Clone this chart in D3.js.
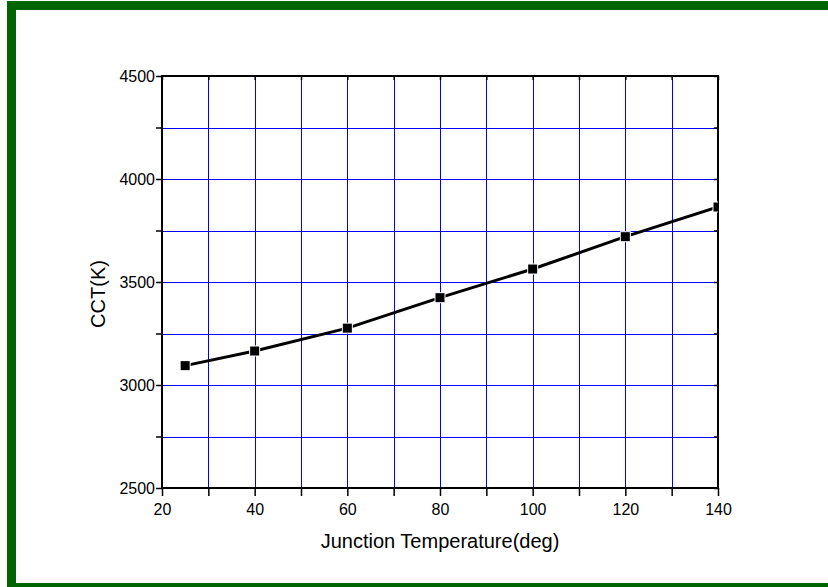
<!DOCTYPE html>
<html>
<head>
<meta charset="utf-8">
<script src="https://cdn.jsdelivr.net/npm/d3@7"></script>
<style>
  html, body { margin: 0; padding: 0; background: #fff; overflow: hidden; }
  svg { display: block; font-family: "Liberation Sans", Arial, sans-serif; }
</style>
</head>
<body>
<svg id="chart" width="828" height="587"></svg>
<script>
// junction temperature (deg) vs CCT (K)
var temps = [25, 40, 60, 80, 100, 120, 140];
var cct = [3094, 3165, 3276, 3424, 3563, 3720, 3864];

var xTickLabels = [20, 40, 60, 80, 100, 120, 140];
var yTickLabels = [2500, 3000, 3500, 4000, 4500];

var svg = d3.select("#chart"),
    width = +svg.attr("width"),
    height = +svg.attr("height");

var pLeft = 162, pRight = 718, pTop = 76, pBottom = 488;

var x = d3.scaleLinear().domain([20, 140]).range([pLeft, pRight]);
var y = d3.scaleLinear().domain([2500, 4500]).range([pBottom, pTop]);

// green outer frame: left, top and bottom only (right side is off the picture)
var frame = svg.append("g").attr("stroke", "#006400").attr("fill", "none");
frame.append("line").attr("x1", 11.5).attr("x2", 11.5).attr("y1", 1).attr("y2", height)
    .attr("stroke-width", 9);
frame.append("line").attr("x1", 7).attr("x2", width).attr("y1", 5.5).attr("y2", 5.5)
    .attr("stroke-width", 9);
frame.append("line").attr("x1", 7).attr("x2", width).attr("y1", 585.5).attr("y2", 585.5)
    .attr("stroke-width", 5);

svg.append("clipPath").attr("id", "plotclip")
    .append("rect")
    .attr("x", pLeft).attr("y", pTop)
    .attr("width", pRight - pLeft).attr("height", pBottom - pTop);

var xGrid = d3.range(30, 140, 10);
var yGrid = d3.range(2750, 4500, 250);

var grid = svg.append("g").attr("stroke", "#0000ff").attr("stroke-width", 1);
grid.selectAll(".vx").data(xGrid).enter().append("line")
    .attr("x1", function(d) { return Math.round(x(d)) + 0.5; })
    .attr("x2", function(d) { return Math.round(x(d)) + 0.5; })
    .attr("y1", pTop).attr("y2", pBottom);
grid.selectAll(".hy").data(yGrid).enter().append("line")
    .attr("y1", function(d) { return Math.round(y(d)) + 0.5; })
    .attr("y2", function(d) { return Math.round(y(d)) + 0.5; })
    .attr("x1", pLeft).attr("x2", pRight);

// axes
var xAxis = d3.axisBottom(x).tickValues(d3.range(20, 141, 10)).tickSize(8)
    .tickFormat(function(d) { return xTickLabels.indexOf(d) >= 0 ? d : ""; });
var yAxis = d3.axisLeft(y).tickValues(d3.range(2500, 4501, 250)).tickSize(6).tickPadding(1)
    .tickFormat(function(d) { return yTickLabels.indexOf(d) >= 0 ? d : ""; });

var gx = svg.append("g").attr("transform", "translate(0," + pBottom + ")").call(xAxis);
var gy = svg.append("g").attr("transform", "translate(" + pLeft + ",0)").call(yAxis);
[gx, gy].forEach(function(g) {
  g.select(".domain").remove();
  g.selectAll("line").attr("stroke", "#000").attr("stroke-width", 1.5);
  g.selectAll("text").attr("fill", "#000").attr("font-size", 16)
      .attr("font-family", "'Liberation Sans', Arial, sans-serif");
});
gx.selectAll("text").attr("dy", "1em");

// inward ticks on the top and right
var gt = svg.append("g").attr("transform", "translate(0," + pTop + ")")
    .call(d3.axisTop(x).tickValues(d3.range(20, 141, 10)).tickSize(-4).tickFormat(""));
var gr = svg.append("g").attr("transform", "translate(" + pRight + ",0)")
    .call(d3.axisRight(y).tickValues(d3.range(2500, 4501, 250)).tickSize(-4).tickFormat(""));
[gt, gr].forEach(function(g) {
  g.select(".domain").remove();
  g.selectAll("line").attr("stroke", "#000").attr("stroke-width", 1.5);
});

svg.append("rect")
    .attr("x", pLeft).attr("y", pTop)
    .attr("width", pRight - pLeft).attr("height", pBottom - pTop)
    .attr("fill", "none").attr("stroke", "#000").attr("stroke-width", 2);

// series
var pts = temps.map(function(t, i) { return [t, cct[i]]; });
var plot = svg.append("g").attr("clip-path", "url(#plotclip)");

plot.append("path")
    .datum(pts)
    .attr("fill", "none")
    .attr("stroke", "#000")
    .attr("stroke-width", 3)
    .attr("d", d3.line().x(function(d) { return x(d[0]); }).y(function(d) { return y(d[1]); }));

plot.selectAll(".pt").data(pts).enter().append("rect")
    .attr("x", function(d) { return x(d[0]) - 4.5; })
    .attr("y", function(d) { return y(d[1]) - 4.5; })
    .attr("width", 9).attr("height", 9)
    .attr("fill", "#000")
    .attr("stroke", "#fff").attr("stroke-width", 2)
    .attr("paint-order", "stroke");

// titles
svg.append("text")
    .attr("x", (pLeft + pRight) / 2).attr("y", 548)
    .attr("text-anchor", "middle")
    .attr("font-size", 20)
    .text("Junction Temperature(deg)");

svg.append("text")
    .attr("transform", "translate(105,294) rotate(-90)")
    .attr("text-anchor", "middle")
    .attr("font-size", 20)
    .text("CCT(K)");
</script>
</body>
</html>
